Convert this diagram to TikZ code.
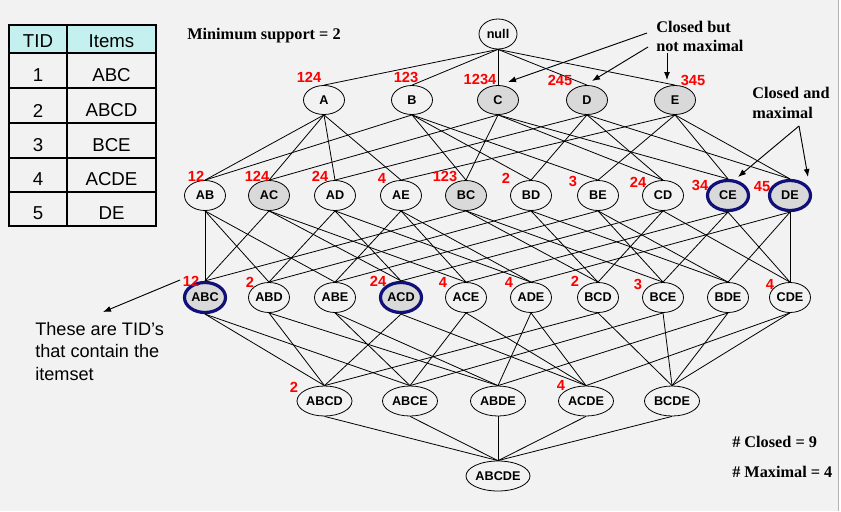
\documentclass[tikz,border=0pt]{standalone}
\usepackage{fontspec}
\setmainfont{Liberation Serif}
\setsansfont{Liberation Sans}
\usetikzlibrary{shapes.geometric,arrows.meta}
\definecolor{slide}{HTML}{F2F2F2}
\definecolor{hdrfill}{HTML}{C4F0F0}
\definecolor{navy}{HTML}{101078}
\definecolor{closedfill}{HTML}{D9D9D9}

\begin{document}
\begin{tikzpicture}[x=0.75pt,y=-0.75pt,
    itemset/.style={ellipse,draw,line width=0.6pt,inner sep=0pt,minimum width=30.75pt,minimum height=22.5pt,font=\sffamily\bfseries\fontsize{9.5}{11}\selectfont},
    closedset/.style={itemset,fill=closedfill},
    maxset/.style={closedset,draw=navy,line width=2.4pt},
    supp/.style={text=red,inner sep=0pt,font=\sffamily\bfseries\fontsize{11}{12}\selectfont},
    note/.style={inner sep=0pt,align=left,font=\bfseries\fontsize{12.2}{14.25}\selectfont},
    tabcell/.style={inner sep=0pt,font=\sffamily\fontsize{14}{16}\selectfont},
    pointer/.style={-{Latex[length=6pt,width=4.5pt]},line width=0.7pt}]
  % slide background
  \fill[slide] (0,0) rectangle (841,511);
  \useasboundingbox (0,0) rectangle (841,511);
  \fill[white] (839,0) rectangle (841,511);
  \draw[gray!60,line width=0.75pt] (838.5,0) -- (838.5,511);

  % transaction table
  \fill[hdrfill] (9,25) rectangle (156,53);
  \draw[line width=1pt] (9,25) rectangle (156,226);
  \draw[line width=1pt] (67,25) -- (67,226);
  \foreach \y in {53,88,123,158,192}
    \draw[line width=1pt] (9,\y) -- (156,\y);
  \node[tabcell] (hTID) at (38,41) {TID};
  \node[tabcell] (hItems) at (111.5,41) {Items};
  \foreach \t/\i/\y in {1/ABC/75.5, 2/ABCD/110.5, 3/BCE/145, 4/ACDE/179.5, 5/DE/213} {
    \node[tabcell] (t\t) at (38,\y) {\t};
    \node[tabcell] (i\t) at (111.5,\y) {\i};
  }

  % itemset lattice
  \node[itemset,minimum width=28.5pt] (null) at (498,34) {null};
  \foreach \n/\x/\s in {A/324/itemset, B/412/itemset, C/498/closedset, D/587/closedset, E/675/closedset}
    \node[\s,minimum height=21.75pt] (\n) at (\x,100) {\n};
  \foreach \n/\x/\s in {AB/205/itemset, AC/269/closedset, AD/335/itemset, AE/401/itemset, BC/466/closedset,
      BD/531/itemset, BE/598/itemset, CD/663/itemset, CE/728/maxset, DE/790/maxset}
    \node[\s] (\n) at (\x,195.5) {\n};
  \foreach \n/\x/\s in {ABC/205/maxset, ABD/269/itemset, ABE/335/itemset, ACD/401/maxset, ACE/466/itemset,
      ADE/531/itemset, BCD/598/itemset, BCE/663/itemset, BDE/728/itemset, CDE/790/itemset}
    \node[\s] (\n) at (\x,297.5) {\n};
  \foreach \n/\x in {ABCD/324.5, ABCE/410, ABDE/498, ACDE/586, BCDE/672}
    \node[itemset,minimum width=41.25pt] (\n) at (\x,401) {\n};
  \node[itemset,minimum width=48pt] (ABCDE) at (498,476) {ABCDE};

  \foreach \c/\ps in {A/null, B/null, C/null, D/null, E/null,
      AB/{A,B}, AC/{A,C}, AD/{A,D}, AE/{A,E}, BC/{B,C}, BD/{B,D}, BE/{B,E}, CD/{C,D}, CE/{C,E}, DE/{D,E},
      ABC/{AB,AC,BC}, ABD/{AB,AD,BD}, ABE/{AB,AE,BE}, ACD/{AC,AD,CD}, ACE/{AC,AE,CE},
      ADE/{AD,AE,DE}, BCD/{BC,BD,CD}, BCE/{BC,BE,CE}, BDE/{BD,BE,DE}, CDE/{CD,CE,DE},
      ABCD/{ABC,ABD,ACD,BCD}, ABCE/{ABC,ABE,ACE,BCE}, ABDE/{ABD,ABE,ADE,BDE},
      ACDE/{ACD,ACE,ADE,CDE}, BCDE/{BCD,BCE,BDE,CDE},
      ABCDE/{ABCD,ABCE,ABDE,ACDE,BCDE}}
    \foreach \p in \ps
      \draw[line width=0.6pt] (\p.south) -- (\c.north);

  % supporting TIDs
  \foreach \n/\t/\x/\y in {A/124/309/77, B/123/406/77, C/1234/480/79, D/245/560/80, E/345/693/80,
      AB/12/196/176, AC/124/257/176, AD/24/320/176, AE/4/382/178, BC/123/445/176,
      BD/2/506/178, BE/3/573/181, CD/24/638/182, CE/34/700/185, DE/45/762/187,
      ABC/12/191/281, ABD/2/250/282, ACD/24/378/281, ACE/4/443/282, ADE/4/509/282,
      BCD/2/575/281, BCE/3/638/284, CDE/4/770/284, ABCD/2/294/387, ACDE/4/561/385}
    \node[supp] (s\n) at (\x,\y) {\t};

  % notes
  \node[note,anchor=base west] (minsup) at (187,39) {Minimum support = 2};
  \node[note,anchor=north west] (cbnm) at (656,21) {Closed but\\not maximal};
  \node[note,anchor=north west,font=\bfseries\fontsize{12.2}{15}\selectfont] (cam) at (752,87) {Closed and\\maximal};
  \node[note,anchor=base west] (nclosed) at (732,447) {\# Closed = 9};
  \node[note,anchor=base west] (nmax) at (732,477) {\# Maximal = 4};
  \node[inner sep=0pt,align=left,anchor=north west,font=\sffamily\fontsize{13.6}{16.9}\selectfont] (tidnote)
    at (35,322) {These are TID’s\\that contain the\\itemset};

  \coordinate (cb1) at (647,33);
  \coordinate (cb2) at (648,47);
  \coordinate (cb3) at (667,53);
  \coordinate (tipC) at (508,82);
  \coordinate (tipD) at (592,81);
  \coordinate (tipE) at (667,80);
  \coordinate (cm) at (799,126);
  \coordinate (tipCE) at (738,177);
  \coordinate (tipDE) at (808,177);
  \coordinate (tidfrom) at (180,280);
  \coordinate (tidto) at (103,312);
  \draw[pointer] (cb1) -- (tipC);
  \draw[pointer] (cb2) -- (tipD);
  \draw[pointer] (cb3) -- (tipE);
  \draw[pointer] (cm) -- (tipCE);
  \draw[pointer] (cm) -- (tipDE);
  \draw[pointer] (tidfrom) -- (tidto);
\end{tikzpicture}
\end{document}
